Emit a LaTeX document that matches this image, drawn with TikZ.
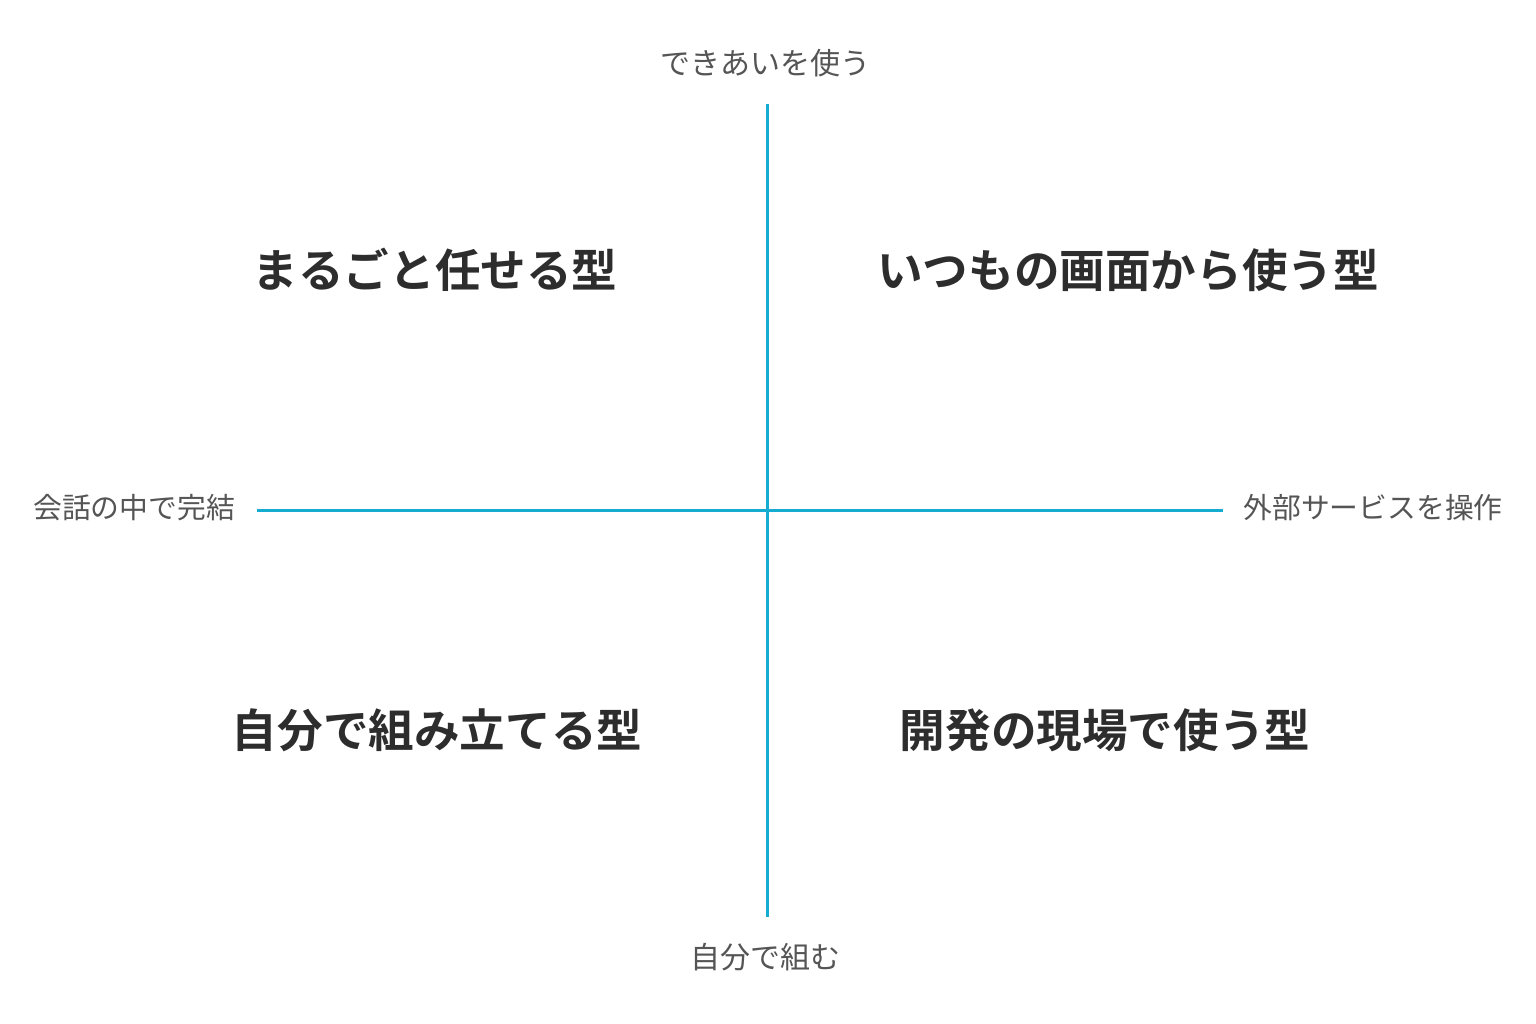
\documentclass[tikz,border=0pt]{standalone}
\usepackage{fontspec}
\setmainfont{Noto Sans CJK JP}
\newfontfamily\jpb{Noto Sans CJK JP}[BoldFont={* Bold}]
\definecolor{axiscol}{RGB}{22,172,210}
\definecolor{axtext}{RGB}{85,85,85}
\definecolor{qtext}{RGB}{45,45,45}
\begin{document}
\begin{tikzpicture}[x=1pt,y=-1pt,
  axis/.style={draw=axiscol,line width=3pt},
  axlabel/.style={text=axtext,font=\fontsize{30}{34}\selectfont,inner sep=0pt,anchor=center},
  sidelabel/.style={axlabel,font=\fontsize{28.8}{34}\selectfont},
  quad/.style={text=qtext,font=\jpb\bfseries\fontsize{45.6}{52}\selectfont,inner sep=0pt,anchor=center}]
\fill[white] (0,0) rectangle (1536,1024);
\useasboundingbox (0,0) rectangle (1536,1024);
\coordinate (top) at (767,104);
\coordinate (bot) at (767,917);
\coordinate (lft) at (257,510);
\coordinate (rgt) at (1223,510);
\draw[axis] (top) -- (bot);
\draw[axis] (lft) -- (rgt);
\node[axlabel] (ltop) at (765,63) {できあいを使う};
\node[axlabel] (lbot) at (765,957) {自分で組む};
\node[sidelabel] (lleft) at (134,508) {会話の中で完結};
\node[sidelabel] (lright) at (1373,508) {外部サービスを操作};
\node[quad] (q1) at (435,270) {まるごと任せる型};
\node[quad] (q2) at (1128,270) {いつもの画面から使う型};
\node[quad] (q3) at (437,730) {自分で組み立てる型};
\node[quad] (q4) at (1105,730) {開発の現場で使う型};
\end{tikzpicture}
\end{document}
